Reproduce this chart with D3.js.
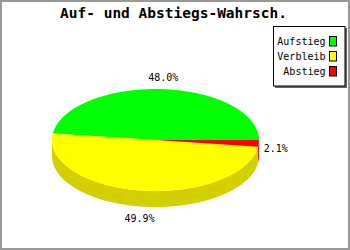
<!DOCTYPE html>
<html>
<head>
<meta charset="utf-8">
<script src="https://cdn.jsdelivr.net/npm/d3@7"></script>
<style>
  body { margin: 0; background: #fff; }
  svg { display: block; }
  text { font-family: "DejaVu Sans Mono", "Liberation Mono", monospace; }
</style>
</head>
<body>
<div id="chart"></div>
<script>
// Chart data
const labels = ["Aufstieg", "Verbleib", "Abstieg"];
const values = [48.0, 49.9, 2.1];
const topColors = ["#00ff00", "#ffff00", "#ff0000"];
const sideColors = ["#00d400", "#d4d000", "#ee0000"];

const width = 350, height = 250;
const cx = 155.5, cy = 140; // centre of the top ellipse
const rx = 103.5, ry = 51;  // ellipse radii
const thick = 16;           // 3D depth

const svg = d3.select("#chart").append("svg")
  .attr("width", width)
  .attr("height", height);

svg.append("rect")
  .attr("x", 1).attr("y", 1)
  .attr("width", width - 2).attr("height", height - 2)
  .attr("fill", "#fff")
  .attr("stroke", "#999")
  .attr("stroke-width", 2);

// Title
svg.append("text")
  .attr("x", 173.5)
  .attr("y", 18)
  .attr("text-anchor", "middle")
  .style("font-size", "14.5px")
  .style("font-weight", "bold")
  .text("Auf- und Abstiegs-Wahrsch.");

// Pie angles: counterclockwise from 3 o'clock (math angles)
const pie = d3.pie().sort(null).startAngle(0).endAngle(2 * Math.PI);
const slices = pie(values);

const px = t => cx + rx * Math.cos(t);
const py = t => cy - ry * Math.sin(t);
const line = d3.line();

const arcPoints = (a, b, dy) => {
  const n = Math.max(2, Math.ceil(Math.abs(b - a) / 0.01));
  return d3.range(n + 1).map(i => {
    const t = a + (b - a) * i / n;
    return [px(t), py(t) + dy];
  });
};

const pieG = svg.append("g");

// Side walls (front half only: angles between PI and 2PI)
slices.forEach((s, i) => {
  const a = Math.max(s.startAngle, Math.PI);
  const b = Math.min(s.endAngle, 2 * Math.PI);
  if (b <= a) return;
  const pts = arcPoints(a, b, 0).concat(arcPoints(b, a, thick));
  pieG.append("path")
    .attr("d", line(pts) + "Z")
    .attr("fill", sideColors[i]);
});

// Top faces
slices.forEach((s, i) => {
  const pts = [[cx, cy]].concat(arcPoints(s.startAngle, s.endAngle, 0));
  pieG.append("path")
    .attr("d", line(pts) + "Z")
    .attr("fill", topColors[i]);
});

// Percentage labels
const fmt = d3.format(".1f");
slices.forEach((s, i) => {
  const t = (s.startAngle + s.endAngle) / 2;
  const c = Math.cos(t), sn = Math.sin(t);
  const lx = cx + (rx + 5) * c;
  const ly = cy - (ry + 8) * sn + (sn < 0 ? Math.max(-sn, 0.25) * thick : 0);
  const txt = pieG.append("text")
    .style("font-size", "10px")
    .attr("text-anchor", "middle")
    .text(fmt(values[i]) + "%");
  const w = txt.node().getComputedTextLength();
  const h = 7.5;
  txt.attr("x", lx + w * 0.5 * c)
    .attr("y", ly - h * 0.5 * sn + h / 2);
});

// Legend
const legend = svg.append("g");
legend.append("rect")
  .attr("x", 275).attr("y", 28)
  .attr("width", 72).attr("height", 60)
  .attr("fill", "#666");
legend.append("rect")
  .attr("x", 273.5).attr("y", 26.5)
  .attr("width", 71.5).attr("height", 59.5)
  .attr("fill", "#fff")
  .attr("stroke", "#000");

const rowY = d3.scalePoint().domain(labels).range([36, 66]);

legend.selectAll(".lbox")
  .data(labels)
  .enter().append("rect")
  .attr("x", 329.5)
  .attr("y", d => rowY(d) + 0.5)
  .attr("width", 7)
  .attr("height", 9.5)
  .attr("fill", (d, i) => topColors[i])
  .attr("stroke", "#000");

legend.selectAll(".ltext")
  .data(labels)
  .enter().append("text")
  .attr("x", 325.5)
  .attr("y", d => rowY(d) + 9)
  .attr("text-anchor", "end")
  .style("font-size", "10px")
  .text(d => d);
</script>
</body>
</html>
